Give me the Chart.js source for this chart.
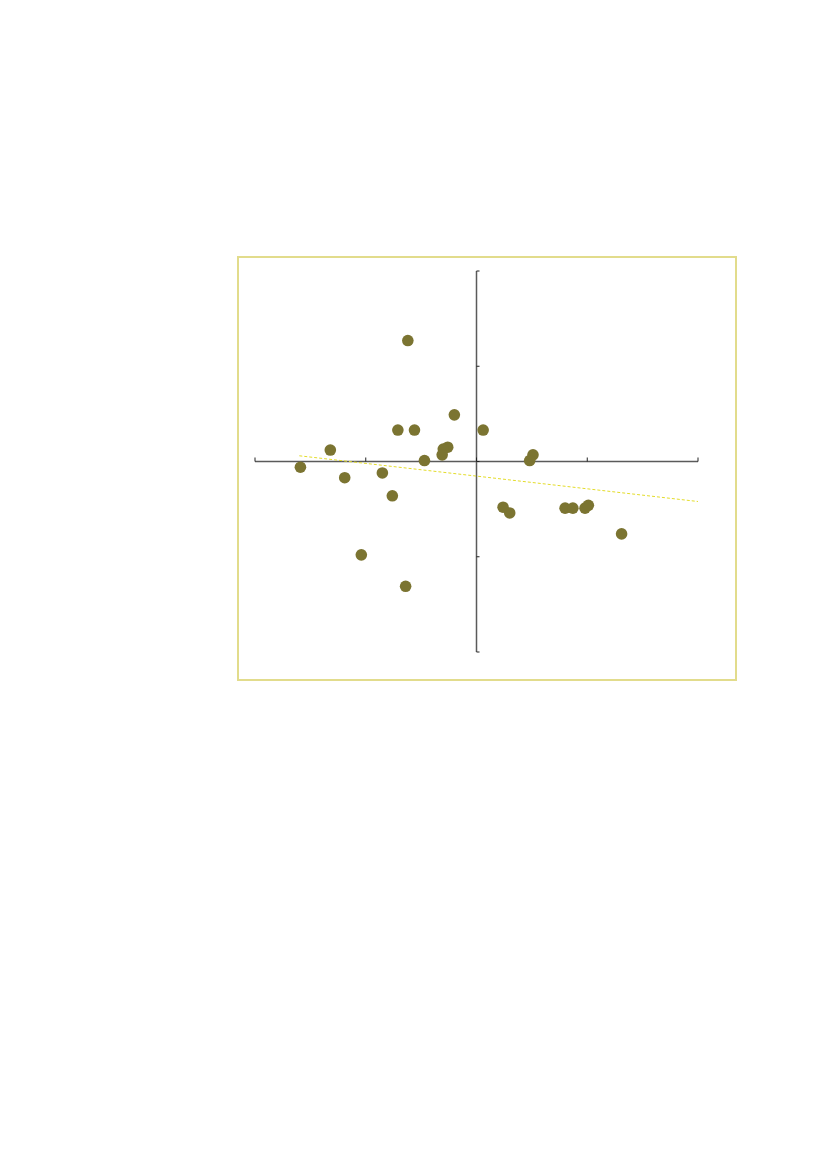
<!DOCTYPE html>
<html>
<head>
<meta charset="utf-8">
<script src="https://cdn.jsdelivr.net/npm/chart.js@4/dist/chart.umd.min.js"></script>
<style>
    html, body { margin: 0; padding: 0; background: #ffffff; }
    #frame {
        position: absolute;
        left: 237px;
        top: 256px;
        width: 496px;
        height: 421px;
        border: 2px solid #e2dc8c;
        background: #ffffff;
    }
    #scatter { display: block; }
</style>
</head>
<body>
<div id="frame"><canvas id="scatter" width="496" height="421"></canvas></div>
<script>
// Point values (x, y)
const xValues = [
    -0.62, -0.20, -0.71, -0.56, 0.06, -1.32, -0.26, -0.30, -0.31, -0.47,
    0.51, 0.48, -1.59, -1.19, -0.85, -0.76, 0.24, 0.30, 0.80, 0.87,
    0.98, 1.01, 1.31, -1.04, -0.64
];
const yValues = [
    1.27, 0.49, 0.33, 0.33, 0.33, 0.12, 0.15, 0.13, 0.07, 0.01,
    0.07, 0.01, -0.06, -0.17, -0.12, -0.36, -0.48, -0.54, -0.49, -0.49,
    -0.49, -0.46, -0.76, -0.98, -1.31
];

// Dashed trend line end points
const trendX = [-1.60, 2.00];
const trendY = [0.06, -0.42];

// Axis ticks
const xTicks = [-2, -1, 0, 1, 2];
const yTicks = [-2, -1, 0, 1, 2];

const MARKER_COLOR = '#7b7431';
const TREND_COLOR = '#e3dc2a';
const AXIS_COLOR = '#5a5a5a';

// Draws the crossing axes through the scale pixel functions
const crossAxes = {
    id: 'crossAxes',
    beforeDatasetsDraw(chart) {
        const { ctx, scales: { x, y } } = chart;
        const x0 = x.getPixelForValue(0);
        const y0 = y.getPixelForValue(0);
        const xMin = x.getPixelForValue(xTicks[0]);
        const xMax = x.getPixelForValue(xTicks[xTicks.length - 1]);
        const yMin = y.getPixelForValue(yTicks[0]);
        const yMax = y.getPixelForValue(yTicks[yTicks.length - 1]);
        ctx.save();
        ctx.strokeStyle = AXIS_COLOR;
        ctx.lineWidth = 1.5;
        ctx.beginPath();
        ctx.moveTo(xMin, y0);
        ctx.lineTo(xMax, y0);
        ctx.moveTo(x0, yMin);
        ctx.lineTo(x0, yMax);
        ctx.stroke();
        ctx.lineWidth = 1;
        ctx.strokeStyle = '#222222';
        ctx.beginPath();
        xTicks.forEach(v => {
            const px = x.getPixelForValue(v);
            ctx.moveTo(px, y0);
            ctx.lineTo(px, y0 - 4);
        });
        yTicks.forEach(v => {
            const py = y.getPixelForValue(v);
            ctx.moveTo(x0, py);
            ctx.lineTo(x0 + 3, py);
        });
        ctx.stroke();
        ctx.restore();
    }
};

const ctx = document.getElementById('scatter').getContext('2d');

new Chart(ctx, {
    type: 'scatter',
    data: {
        datasets: [
            {
                label: 'Trend',
                type: 'line',
                data: trendX.map((v, i) => ({ x: v, y: trendY[i] })),
                borderColor: TREND_COLOR,
                borderWidth: 1,
                borderDash: [3, 2],
                pointRadius: 0,
                fill: false,
                order: 2
            },
            {
                label: 'Points',
                data: xValues.map((v, i) => ({ x: v, y: yValues[i] })),
                backgroundColor: MARKER_COLOR,
                borderColor: MARKER_COLOR,
                borderWidth: 0,
                pointRadius: 5.8,
                order: 1
            }
        ]
    },
    options: {
        responsive: false,
        animation: false,
        layout: {
            padding: { left: 16, top: 13, right: 37, bottom: 27 }
        },
        scales: {
            x: { type: 'linear', min: -2, max: 2, display: false },
            y: { type: 'linear', min: -2, max: 2, display: false }
        },
        plugins: {
            legend: { display: false },
            tooltip: { enabled: false }
        }
    },
    plugins: [crossAxes]
});
</script>
</body>
</html>
